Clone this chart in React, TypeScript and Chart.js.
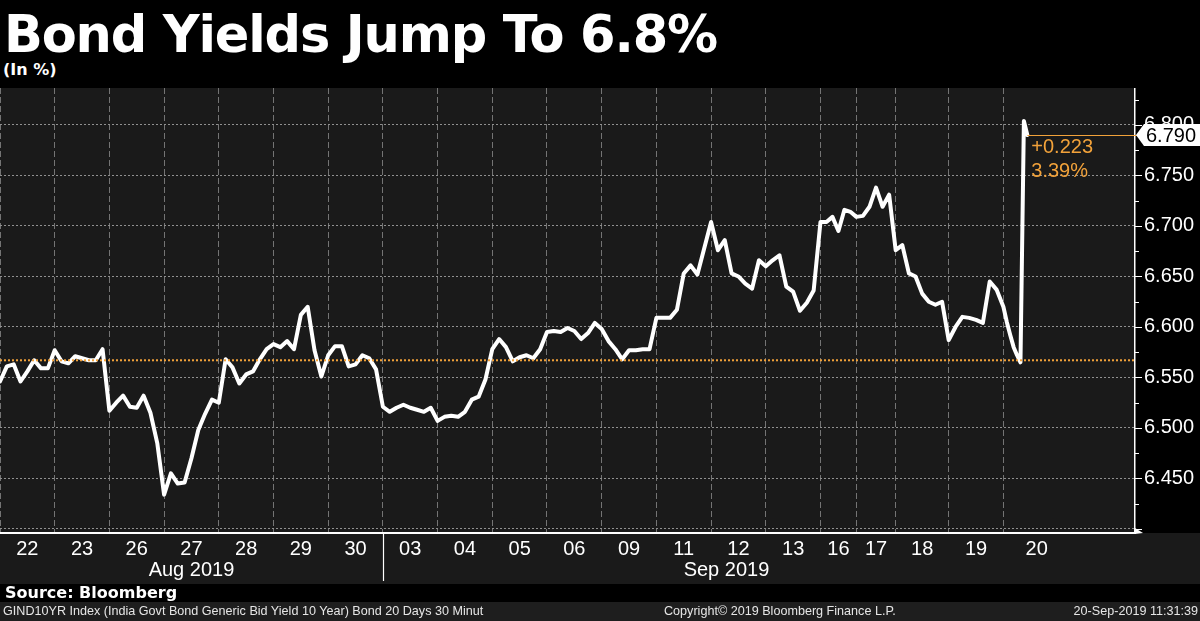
import React, { useEffect, useRef } from "react";
import { Chart, registerables } from "chart.js";

Chart.register(...registerables);

// ---------- data ----------
const titleText = "Bond Yields Jump To 6.8%";
const subtitleText = "(In %)";
const sourceText = "Source: Bloomberg";
const footerLeft = "GIND10YR Index (India Govt Bond Generic Bid Yield 10 Year) Bond 20 Days 30 Minut";
const footerMid = "Copyright\u00A9 2019 Bloomberg Finance L.P.";
const footerRight = "20-Sep-2019 11:31:39";

const dayLabels = ["22", "23", "26", "27", "28", "29", "30", "03", "04", "05", "06", "09", "11", "12", "13", "16", "17", "18", "19", "20"];
// session length of each day, in 30-minute bars
const daySpans = [16, 16, 16, 16, 16, 16, 16, 16, 16, 16, 16, 16, 16, 16, 16, 10.5, 11.5, 15.5, 16, 19.5];
const monthLabels = ["Aug 2019", "Sep 2019"];
const monthDayCounts = [7, 13];

const dayYields = [
  [6.546, 6.561, 6.563, 6.546, 6.556, 6.567, 6.559, 6.559], // 22
  [6.577, 6.566, 6.564, 6.571, 6.569, 6.567, 6.567, 6.578], // 23
  [6.517, 6.525, 6.532, 6.521, 6.520, 6.532, 6.515, 6.485], // 26
  [6.434, 6.455, 6.445, 6.446, 6.470, 6.498, 6.514, 6.528], // 27
  [6.525, 6.568, 6.560, 6.544, 6.553, 6.556, 6.568, 6.578], // 28
  [6.583, 6.580, 6.586, 6.578, 6.612, 6.620, 6.577, 6.551], // 29
  [6.572, 6.581, 6.581, 6.561, 6.563, 6.572, 6.569, 6.558], // 30
  [6.521, 6.516, 6.520, 6.523, 6.520, 6.518, 6.516, 6.520], // 03
  [6.507, 6.511, 6.512, 6.511, 6.516, 6.528, 6.531, 6.548], // 04
  [6.578, 6.588, 6.580, 6.566, 6.570, 6.572, 6.569, 6.578], // 05
  [6.595, 6.596, 6.595, 6.599, 6.596, 6.588, 6.594, 6.604], // 06
  [6.598, 6.586, 6.578, 6.568, 6.577, 6.577, 6.578, 6.578], // 09
  [6.609, 6.609, 6.609, 6.617, 6.653, 6.661, 6.652, 6.678], // 11
  [6.704, 6.676, 6.686, 6.653, 6.650, 6.643, 6.638, 6.666], // 12
  [6.660, 6.666, 6.671, 6.640, 6.635, 6.616, 6.624, 6.636], // 13
  [6.704, 6.704, 6.709, 6.695, 6.716, 6.714], // 16
  [6.709, 6.710, 6.719, 6.738, 6.719, 6.731], // 17
  [6.676, 6.681, 6.653, 6.650, 6.633, 6.625, 6.622, 6.625], // 18
  [6.587, 6.600, 6.610, 6.609, 6.607, 6.604, 6.645, 6.637], // 19
  [6.620, 6.605, 6.592, 6.580, 6.572, 6.565, 6.804, 6.790], // 20 (live day, one value per bar)
];
const LIVE_DAY_STEP = 1;

const prevClose = 6.567;
const changeText = "+0.223";
const pctText = "3.39%";

const yTicks = [6.4, 6.425, 6.45, 6.475, 6.5, 6.525, 6.55, 6.575, 6.6, 6.625, 6.65, 6.675, 6.7, 6.725, 6.75, 6.775, 6.8, 6.825];
const yGridTicks = [6.4, 6.45, 6.5, 6.55, 6.6, 6.65, 6.7, 6.75, 6.8];
const yLabeledTicks = [6.45, 6.5, 6.55, 6.6, 6.65, 6.7, 6.75, 6.8];

// ---------- styles ----------
const Y_MIN = 6.396;
const Y_MAX = 6.8366;
const X_MAX = 332;
const PLOT_BG = "#1a1a1a";
const AXIS_BG = "#1a1a1a";
const ORANGE = "#f2a23a";
const AXIS_FONT = "Liberation Sans";

const near = (a: number, b: number) => Math.abs(a - b) < 1e-6;

function buildSeries() {
  const pts: { x: number; y: number }[] = [];
  const boundaries: number[] = [];
  const centers: number[] = [];
  let start = 0;
  dayYields.forEach((vals, d) => {
    const step = d === dayYields.length - 1 ? LIVE_DAY_STEP : daySpans[d] / vals.length;
    vals.forEach((v, i) => pts.push({ x: start + i * step, y: v }));
    boundaries.push(start);
    centers.push(start + daySpans[d] / 2);
    start += daySpans[d];
  });
  const monthCenters: number[] = [];
  const monthStarts: number[] = [];
  let di = 0;
  let ms = 0;
  monthDayCounts.forEach((cnt) => {
    let span = 0;
    for (let k = 0; k < cnt; k++) span += daySpans[di + k];
    monthStarts.push(ms);
    monthCenters.push(ms + span / 2);
    ms += span;
    di += cnt;
  });
  return { pts, boundaries, centers, monthCenters, monthStarts };
}

export default function App() {
  const ref = useRef<HTMLCanvasElement | null>(null);

  useEffect(() => {
    const canvas = ref.current;
    if (!canvas) return;
    const { pts, boundaries, centers, monthCenters, monthStarts } = buildSeries();
    const last = pts[pts.length - 1];

    const overlay = {
      id: "overlay",
      beforeDraw(chart: any) {
        const { ctx, chartArea: a, width, height } = chart;
        ctx.save();
        ctx.fillStyle = "#000";
        ctx.fillRect(0, 0, width, height);
        ctx.fillStyle = PLOT_BG;
        ctx.fillRect(a.left, a.top, a.right - a.left, a.bottom - a.top);
        ctx.fillStyle = AXIS_BG;
        ctx.fillRect(0, a.bottom, width, height - a.bottom);
        ctx.restore();
      },
      afterDatasetsDraw(chart: any) {
        const { ctx, chartArea: a } = chart;
        const y = chart.scales.y.getPixelForValue(prevClose);
        ctx.save();
        ctx.strokeStyle = ORANGE;
        ctx.lineWidth = 2;
        ctx.setLineDash([2, 2]);
        ctx.beginPath();
        ctx.moveTo(a.left, y);
        ctx.lineTo(a.right, y);
        ctx.stroke();
        ctx.restore();
      },
      afterDraw(chart: any) {
        const { ctx, chartArea: a, width, height } = chart;
        const ys = chart.scales.y;
        const xs = chart.scales.x;
        ctx.save();
        // right axis tick marks
        ctx.strokeStyle = "#fff";
        ctx.lineWidth = 1;
        yTicks.forEach((v) => {
          const py = Math.round(ys.getPixelForValue(v)) + 0.5;
          const len = yGridTicks.some((t) => near(t, v)) ? 7 : 4;
          ctx.beginPath();
          ctx.moveTo(a.right, py);
          ctx.lineTo(a.right + len, py);
          ctx.stroke();
        });
        // axis arrow
        ctx.fillStyle = "#fff";
        ctx.beginPath();
        ctx.moveTo(a.right, a.bottom - 5);
        ctx.lineTo(a.right + 8, a.bottom);
        ctx.lineTo(a.right, a.bottom + 1);
        ctx.closePath();
        ctx.fill();
        // month separator
        const sx = Math.round(xs.getPixelForValue(monthStarts[1])) + 0.5;
        ctx.strokeStyle = "#fff";
        ctx.lineWidth = 1.2;
        ctx.beginPath();
        ctx.moveTo(sx, a.bottom);
        ctx.lineTo(sx, height - 3);
        ctx.stroke();
        // last value marker
        const yL = ys.getPixelForValue(last.y);
        const xL = xs.getPixelForValue(last.x);
        ctx.strokeStyle = ORANGE;
        ctx.lineWidth = 1;
        ctx.beginPath();
        ctx.moveTo(xL, Math.round(yL) + 0.5);
        ctx.lineTo(a.right + 2, Math.round(yL) + 0.5);
        ctx.stroke();
        ctx.fillStyle = "#fff";
        ctx.beginPath();
        ctx.moveTo(a.right + 1, yL);
        ctx.lineTo(a.right + 9, yL - 11);
        ctx.lineTo(width, yL - 11);
        ctx.lineTo(width, yL + 11);
        ctx.lineTo(a.right + 9, yL + 11);
        ctx.closePath();
        ctx.fill();
        ctx.fillStyle = "#000";
        ctx.font = `20px "${AXIS_FONT}"`;
        ctx.textBaseline = "middle";
        ctx.textAlign = "left";
        ctx.fillText(last.y.toFixed(3), a.right + 11, yL + 1);
        ctx.fillStyle = ORANGE;
        ctx.fillText(changeText, xL + 4, yL + 12);
        ctx.fillText(pctText, xL + 4, yL + 36);
        ctx.restore();
      },
    };

    const zeroPad = (s: any) => {
      s.paddingTop = 0;
      s.paddingBottom = 0;
      s.paddingLeft = 0;
      s.paddingRight = 0;
    };

    const chart = new Chart(canvas, {
      type: "line",
      data: {
        datasets: [
          {
            data: pts,
            borderColor: "#ffffff",
            borderWidth: 4,
            pointRadius: 0,
            tension: 0,
            borderJoinStyle: "round",
            borderCapStyle: "round",
            fill: false,
          },
        ],
      },
      options: {
        animation: false,
        responsive: false,
        events: [],
        layout: { padding: 0, autoPadding: false },
        plugins: { legend: { display: false }, tooltip: { enabled: false }, title: { display: false } },
        scales: {
          x: {
            type: "linear",
            position: "bottom",
            weight: 0,
            min: 0,
            max: X_MAX,
            afterBuildTicks: (s: any) => {
              s.ticks = boundaries.map((v) => ({ value: v }));
            },
            afterFit: (s: any) => {
              s.height = 0;
              zeroPad(s);
            },
            ticks: { display: false },
            grid: { color: "#747474", lineWidth: 1, drawTicks: false },
            border: { display: true, color: "#ffffff", width: 2, dash: [6, 3] },
          },
          xDays: {
            type: "linear",
            axis: "x",
            position: "bottom",
            weight: 1,
            min: 0,
            max: X_MAX,
            afterBuildTicks: (s: any) => {
              s.ticks = centers.map((v) => ({ value: v }));
            },
            afterFit: (s: any) => {
              s.height = 26;
              zeroPad(s);
            },
            ticks: {
              autoSkip: false,
              maxRotation: 0,
              minRotation: 0,
              padding: 4,
              color: "#ffffff",
              font: { family: AXIS_FONT, size: 20 },
              callback: (_v: any, i: number) => dayLabels[i],
            },
            grid: { display: false, drawTicks: false },
            border: { display: false },
          },
          xMonths: {
            type: "linear",
            axis: "x",
            position: "bottom",
            weight: 2,
            min: 0,
            max: X_MAX,
            afterBuildTicks: (s: any) => {
              s.ticks = monthCenters.map((v) => ({ value: v }));
            },
            afterFit: (s: any) => {
              s.height = 25;
              zeroPad(s);
            },
            ticks: {
              autoSkip: false,
              maxRotation: 0,
              minRotation: 0,
              padding: 1,
              color: "#ffffff",
              font: { family: AXIS_FONT, size: 20, lineHeight: 1 },
              callback: (_v: any, i: number) => monthLabels[i],
            },
            grid: { display: false, drawTicks: false },
            border: { display: false },
          },
          y: {
            type: "linear",
            position: "right",
            min: Y_MIN,
            max: Y_MAX,
            afterBuildTicks: (s: any) => {
              s.ticks = yTicks.map((v) => ({ value: v }));
            },
            afterFit: (s: any) => {
              s.width = 65;
              zeroPad(s);
            },
            ticks: {
              autoSkip: false,
              padding: 9,
              color: "#ffffff",
              font: { family: AXIS_FONT, size: 20 },
              callback: (v: any) => (yLabeledTicks.some((t) => near(t, Number(v))) ? Number(v).toFixed(3) : ""),
            },
            grid: {
              drawTicks: false,
              lineWidth: 1,
              color: (c: any) =>
                c.tick && yGridTicks.some((t) => near(t, c.tick.value)) ? "#909090" : "rgba(0,0,0,0)",
            },
            border: { display: true, color: "#ffffff", width: 1.5, dash: [2, 2] },
          },
        },
      } as any,
      plugins: [overlay],
    });

    return () => chart.destroy();
  }, []);

  return (
    <div style={{ position: "absolute", left: 0, top: 0, width: 1200, height: 621, background: "#000", overflow: "hidden" }}>
      <div
        style={{
          position: "absolute",
          left: 4,
          top: 9,
          font: 'bold 51px "DejaVu Sans"',
          lineHeight: "51px",
          letterSpacing: "-1.15px",
          color: "#fff",
          whiteSpace: "nowrap",
        }}
      >
        {titleText}
      </div>
      <div
        style={{
          position: "absolute",
          left: 3,
          top: 62,
          font: 'bold 16px "DejaVu Sans"',
          lineHeight: "16px",
          color: "#fff",
          whiteSpace: "nowrap",
        }}
      >
        {subtitleText}
      </div>
      <canvas
        ref={ref}
        width={1200}
        height={496}
        style={{ position: "absolute", left: 0, top: 88, width: 1200, height: 496, display: "block" }}
      />
      <div
        style={{
          position: "absolute",
          left: 0,
          top: 584,
          width: 1200,
          height: 18,
          background: "#000",
          color: "#fff",
          font: 'bold 16px "DejaVu Sans"',
          lineHeight: "18px",
          paddingLeft: 5,
          boxSizing: "border-box",
          whiteSpace: "nowrap",
        }}
      >
        {sourceText}
      </div>
      <div
        style={{
          position: "absolute",
          left: 0,
          top: 602,
          width: 1200,
          height: 19,
          background: "#1e1e1e",
          color: "#e6e6e6",
          font: '12.6px "Liberation Sans"',
          lineHeight: "19px",
          whiteSpace: "nowrap",
        }}
      >
        <span style={{ position: "absolute", left: 3 }}>{footerLeft}</span>
        <span style={{ position: "absolute", left: 664 }}>{footerMid}</span>
        <span style={{ position: "absolute", right: 2 }}>{footerRight}</span>
      </div>
    </div>
  );
}
